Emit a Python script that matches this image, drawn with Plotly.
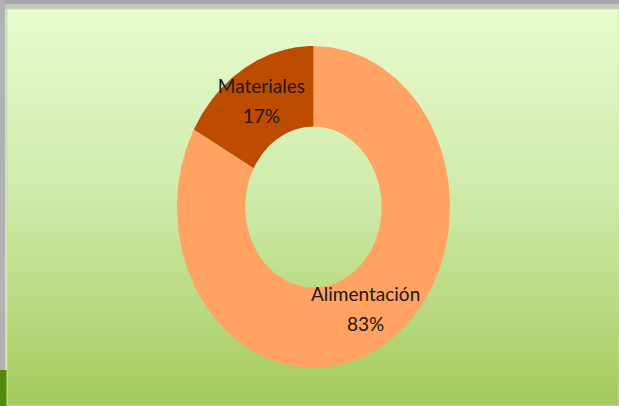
import numpy as np
import plotly.graph_objects as go

# Donut data
categories = ["Alimentación", "Materiales"]
values = [83, 17]
pct_labels = ["83%", "17%"]
slice_colors = ["#FFA262", "#BE4C00"]

W, H = 619, 406
# canvas in pixel units: x right, y down
CX, CY = 313.5, 207.0
RX, RY = 136.5, 161.0
HOLE = 0.5

fig = go.Figure()

# panel background with vertical gradient
px0, py0, px1, py1 = 7, 9, 619, 406
fig.add_trace(go.Scatter(
    x=[px0, px1, px1, px0, px0], y=[py0, py0, py1, py1, py0],
    mode="lines", line=dict(width=1, color="#C6E592"),
    fill="toself",
    fillgradient=dict(type="vertical", start=py0, stop=py1,
                      colorscale=[[0, "#E8FBD0"], [0.5, "#CDE9A6"], [1, "#A3CA5A"]]),
    hoverinfo="skip", showlegend=False,
))


def ring_xy(a0, a1, n=200):
    t_out = np.radians(np.linspace(a0, a1, n))
    t_in = t_out[::-1]
    xs = np.concatenate([CX + RX * np.sin(t_out), CX + RX * HOLE * np.sin(t_in)])
    ys = np.concatenate([CY - RY * np.cos(t_out), CY - RY * HOLE * np.cos(t_in)])
    return np.append(xs, xs[0]), np.append(ys, ys[0])


total = float(sum(values))
start = 0.0
for name, v, pct, col in zip(categories, values, pct_labels, slice_colors):
    span = 360.0 * v / total
    xs, ys = ring_xy(start, start + span)
    fig.add_trace(go.Scatter(
        x=xs, y=ys, mode="lines", line=dict(width=0, color=col),
        fill="toself", fillcolor=col, name=name, showlegend=False,
        hoverinfo="skip",
    ))
    mid = np.radians(start + span / 2)
    r = (1 + HOLE) / 2
    lx = CX + RX * r * np.sin(mid)
    ly = CY - RY * r * np.cos(mid)
    fig.add_trace(go.Scatter(
        x=[lx, lx], y=[ly - 15, ly + 15], mode="text",
        text=[name, pct], textposition="middle center",
        textfont=dict(family="Lato", size=19, color="#201812"),
        hoverinfo="skip", showlegend=False,
    ))
    start += span

# frame strips around the panel
shapes = [
    dict(type="rect", xref="paper", yref="paper", x0=0, x1=1, y0=1 - 4 / H, y1=1,
         fillcolor="#A9A9A9", line_width=0, layer="below"),
    dict(type="rect", xref="paper", yref="paper", x0=0, x1=1, y0=1 - 9 / H, y1=1 - 4 / H,
         fillcolor="#C4C4C4", line_width=0, layer="below"),
    dict(type="rect", xref="paper", yref="paper", x0=0, x1=5 / W, y0=0, y1=1,
         fillcolor="#B2B2B2", line_width=0, layer="below"),
    dict(type="rect", xref="paper", yref="paper", x0=5 / W, x1=7 / W, y0=0, y1=1 - 9 / H,
         fillcolor="#DADADA", line_width=0, layer="below"),
    dict(type="rect", xref="paper", yref="paper", x0=0, x1=7 / W, y0=0, y1=1 - 370 / H,
         fillcolor="#4F8A0C", line_width=0, layer="below"),
]

fig.update_layout(
    width=W, height=H,
    margin=dict(l=0, r=0, t=0, b=0),
    paper_bgcolor="#FFFFFF", plot_bgcolor="rgba(0,0,0,0)",
    xaxis=dict(range=[0, W], visible=False, fixedrange=True),
    yaxis=dict(range=[H, 0], visible=False, fixedrange=True),
    shapes=shapes,
    showlegend=False,
)

fig.write_html("out.html")
